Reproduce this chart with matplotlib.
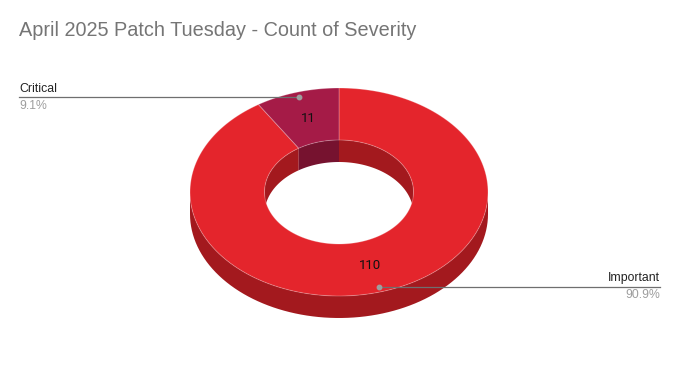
import numpy as np
import matplotlib.pyplot as plt
from matplotlib.patches import Polygon

# 数据
labels = ['Important', 'Critical']
counts = [110, 11]
top_colors = ['#e4252c', '#a51b47']
side_colors = ['#a3191e', '#76122f']

title = 'April 2025 Patch Tuesday - Count of Severity'

W, H = 679, 371
fig = plt.figure(figsize=(W / 100, H / 100), dpi=100)
ax = fig.add_axes([0, 0, 1, 1])
ax.set_xlim(0, W)
ax.set_ylim(H, 0)
ax.axis('off')

FONT = 'Liberation Sans'

# 环形几何（像素）
cx, cy = 339, 192
rx, ry = 149, 104
hole = 0.5
depth = 22

total = sum(counts)
fracs = [c / total for c in counts]
starts = np.cumsum([0] + fracs[:-1]) * 360
ends = np.cumsum(fracs) * 360


def pt(theta, r):
    t = np.radians(theta)
    return cx + r * rx * np.sin(t), cy - r * ry * np.cos(t)


def arc(a0, a1, r, dy=0, n=80):
    th = np.linspace(a0, a1, n)
    x, y = pt(th, r)
    return np.column_stack([x, y + dy])


def overlap(a0, a1, b0, b1):
    lo, hi = max(a0, b0), min(a1, b1)
    return (lo, hi) if hi > lo else None


# 外侧壁（前半部分 90..270）
for s, e, c in zip(starts, ends, side_colors):
    seg = overlap(s, e, 90, 270)
    if seg:
        top = arc(seg[0], seg[1], 1)
        bot = arc(seg[1], seg[0], 1, depth)
        ax.add_patch(Polygon(np.vstack([top, bot]), closed=True, fc=c, ec='none', zorder=1))

# 内侧壁（后半部分 270..450）
for s, e, c in zip(starts, ends, side_colors):
    for off in (0, 360):
        seg = overlap(s + off, e + off, 270, 450)
        if seg:
            top = arc(seg[0], seg[1], hole)
            bot = arc(seg[1], seg[0], hole, depth)
            ax.add_patch(Polygon(np.vstack([top, bot]), closed=True, fc=c, ec='none', zorder=1))

# 顶面
for s, e, c in zip(starts, ends, top_colors):
    outer = arc(s, e, 1, n=200)
    inner = arc(e, s, hole, n=200)
    ax.add_patch(Polygon(np.vstack([outer, inner]), closed=True, fc=c,
                         ec=(1, 1, 1, 0.25), lw=0.7, zorder=2))

# 数值标签与引线
for lab, cnt, s, e, f in zip(labels, counts, starts, ends, fracs):
    mid = (s + e) / 2
    vx, vy = pt(mid, 0.74)
    ax.text(vx, vy, str(cnt), ha='center', va='center', fontsize=9.5,
            family='Roboto', color='#111111', zorder=3)
    dx, dy = pt(mid, 0.95)
    ax.plot(dx, dy, 'o', ms=3.2, color='#9e9e9e', zorder=4)
    if dx < cx:
        x_end, ha = 19, 'left'
    else:
        x_end, ha = 660, 'right'
    ax.plot([x_end, dx], [dy, dy], color='#6f6f6f', lw=0.9, zorder=3)
    ax.text(x_end, dy - 2.5, lab, ha=ha, va='bottom', fontsize=8.8,
            family=FONT, color='#222222')
    ax.text(x_end, dy + 2.5, f'{f * 100:.1f}%', ha=ha, va='top', fontsize=8.8,
            family=FONT, color='#9e9e9e')

ax.text(19, 31, title, ha='left', va='center', fontsize=14.3,
        family=FONT, color='#757575')

fig.savefig('out.png', dpi=100)
